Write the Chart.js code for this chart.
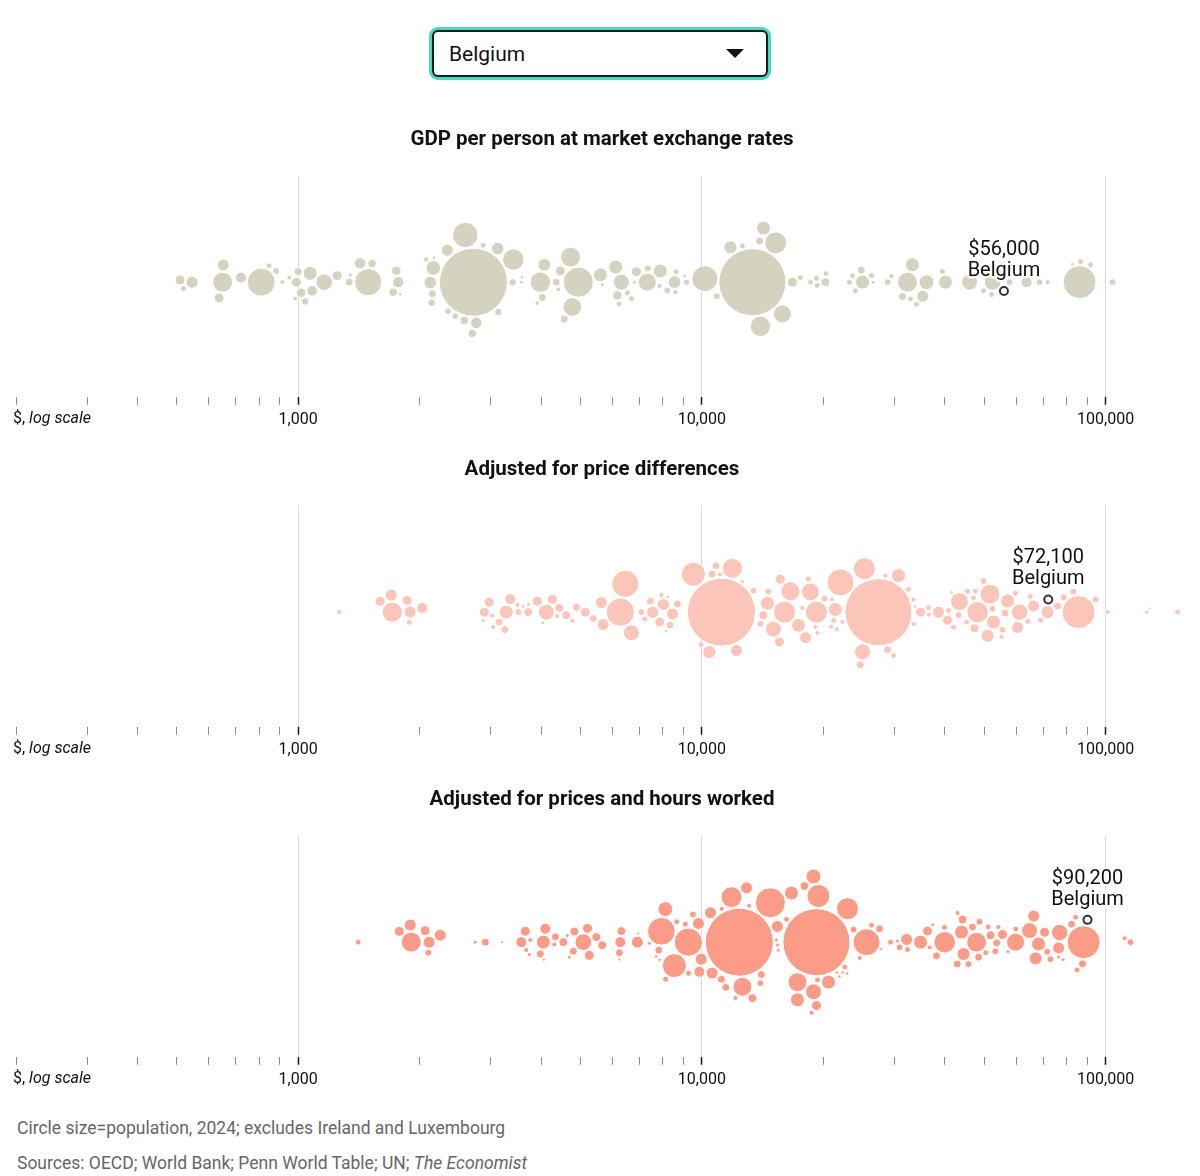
<!DOCTYPE html>
<html>
<head>
<meta charset="utf-8">
<script src="https://cdn.jsdelivr.net/npm/chart.js@4.4.1/dist/chart.umd.min.js"></script>
<style>
  body { margin: 0; background: #fff; font-family: Roboto, "Noto Sans", sans-serif; }
  #page { position: relative; width: 1200px; height: 1176px; overflow: hidden; }
  .select { position: absolute; left: 432px; top: 30px; width: 332px; height: 43px;
            border: 2px solid #1a1a1a; border-radius: 6px; box-shadow: 0 0 0 3px #45dbb9; background: #fff; }
  .select span { position: absolute; left: 15px; top: 10px; font-size: 21px; line-height: 25px; color: #111; }
  .select i { position: absolute; right: 22px; top: 17px; width: 0; height: 0;
              border-left: 9px solid transparent; border-right: 9px solid transparent; border-top: 9px solid #111; }
  .panel { position: absolute; left: 0; width: 1200px; height: 330px; }
  .note { position: absolute; left: 17px; font-size: 17.5px; line-height: 22px; color: #666; white-space: nowrap; }
</style>
</head>
<body>
<div id="page">
  <div class="select"><span>Belgium</span><i></i></div>
  <canvas class="panel" id="c1" width="1200" height="330" style="top:114px"></canvas>
  <canvas class="panel" id="c2" width="1200" height="330" style="top:444px"></canvas>
  <canvas class="panel" id="c3" width="1200" height="330" style="top:774px"></canvas>
  <div class="note" style="top:1117px">Circle size=population, 2024; excludes Ireland and Luxembourg</div>
  <div class="note" style="top:1152px">Sources: OECD; World Bank; Penn World Table; UN; <i>The Economist</i></div>
</div>
<script>
// [GDP per person in $, population in millions]
const marketRates = [
  [510,31],[520,11],[546,45],[650,125],[652,45],[637,31],[722,38],[810,245],[847,11],[882,15],[913,7],[950,7],
  [983,7],[1017,28],[1000,20],[990,31],[1041,17],[1083,35],[1071,61],[1160,87],[1249,31],[1346,5],[1338,20],
  [1491,232],[1424,41],[1525,23],[1720,23],[1750,28],[1769,41],[1790,4],[2161,67],[2150,20],[2124,50],[2140,17],
  [2075,9],[2170,4],[2716,1450],[3131,17],[2341,45],[2350,14],[2449,14],[2579,23],[2762,41],[2594,202],[2700,23],
  [2873,11],[3120,50],[3410,143],[3400,17],[3570,5],[3580,4],[3979,133],[4072,50],[4025,20],[3911,7],[4358,20],
  [4460,31],[4563,20],[4942,283],[4776,108],[4730,125],[4410,7],[5666,5],[5603,61],[6175,27],[6117,61],[6318,80],
  [6233,11],[6538,11],[6690,11],[6881,31],[6805,5],[7325,101],[7340,15],[7890,61],[7850,8],[8213,15],[8595,8],
  [8556,51],[8635,11],[9155,13],[9070,5],[10170,211],[10895,15],[13340,1410],[11770,53],[12600,11],[14210,61],
  [15230,150],[13960,130],[15830,101],[13900,20],[16760,31],[17540,11],[18570,11],[19220,11],[19300,11],[20230,25],
  [20300,11],[24010,11],[23200,11],[25000,61],[23620,11],[24830,20],[26300,11],[26550,5],[28830,15],[29490,8],
  [33240,61],[32300,124],[36010,70],[35250,45],[31400,20],[32830,11],[34010,11],[39450,11],[40130,61],[46030,80],
  [49570,20],[49850,11],[54930,53],[52480,84],[57830,15],[52180,11],[63720,38],[68620,15],[71840,8],[82700,4],
  [86220,340],[86700,11],[91800,11],[104100,15]
];
const priceAdjusted = [
  [1264,9],[1710,125],[1884,11],[1895,45],[2029,38],[1863,31],[1700,45],[1597,31],[2890,31],[2873,5],[2974,31],
  [3148,20],[3042,8],[3025,8],[3277,61],[3247,20],[3353,38],[3510,15],[3493,8],[3611,5],[3715,25],[3720,5],
  [3911,31],[4118,80],[4262,31],[4035,5],[4434,25],[4385,8],[4615,25],[4776,8],[4888,20],[5143,31],[5383,20],
  [5635,45],[5690,45],[6281,250],[6463,230],[6688,80],[7080,15],[7220,11],[7455,20],[7550,45],[7936,8],[7860,31],
  [8027,45],[8452,45],[8336,20],[8696,20],[8150,4],[8250,4],[9526,180],[9960,11],[11180,1450],[10430,53],
  [11900,125],[10600,20],[10840,20],[11080,8],[12180,45],[12600,5],[13420,15],[13960,15],[14540,61],[14600,15],
  [14200,25],[15040,80],[15650,31],[15560,31],[16020,152],[16570,113],[17350,61],[18060,45],[17730,8],[19220,152],
  [18570,101],[19110,8],[19330,8],[18350,11],[20120,15],[21420,61],[21200,11],[20900,8],[21600,8],[21000,8],
  [22300,8],[22050,228],[25000,80],[24700,20],[27380,1410],[25270,152],[28830,20],[28500,8],[29830,11],[30690,61],
  [32490,11],[33440,8],[33500,8],[33700,4],[34800,31],[36420,11],[36500,8],[38560,45],[40820,11],[40590,31],
  [41500,5],[42000,11],[43220,15],[43470,101],[45240,11],[45500,11],[47090,11],[47360,25],[47630,11],[48180,144],
  [51020,53],[49850,15],[52780,61],[51720,124],[55250,8],[57170,61],[52480,15],[55540,15],[56390,20],[59840,11],
  [61220,84],[60520,45],[64110,11],[66340,45],[65000,11],[69030,11],[71840,53],[76040,20],[78690,15],[83300,15],
  [85730,340],[94450,15],[101200,8],[126400,5],[128600,3],[150800,11]
];
const hoursAdjusted = [
  [1408,11],[1906,125],[2100,15],[2110,45],[2249,45],[2063,31],[1895,45],[1780,31],[2746,5],[2907,20],[3203,3],
  [3653,31],[3570,38],[3671,8],[3757,8],[3740,5],[4048,61],[4095,38],[4060,3],[3979,20],[4335,20],[4310,8],
  [4538,25],[4640,5],[4802,20],[4694,5],[5085,87],[4830,25],[5262,31],[5210,31],[5477,25],[5666,25],[6245,20],
  [6318,25],[6280,38],[6250,3],[6920,45],[6950,3],[7412,5],[7936,240],[8120,70],[7820,20],[8547,180],[9259,250],
  [9270,11],[9858,38],[9500,15],[9810,45],[9100,11],[8660,11],[8130,11],[7700,4],[7860,4],[12380,1450],[11840,138],
  [13340,25],[14040,20],[9960,45],[10500,45],[10600,45],[11180,20],[11200,8],[11460,20],[12110,8],[12600,113],
  [12900,45],[13100,8],[13960,15],[14780,283],[15380,45],[15400,5],[15450,5],[15300,5],[16670,61],[17250,61],
  [18900,80],[17950,25],[19220,31],[16200,11],[19220,1410],[17250,113],[18900,70],[19440,166],[18700,8],[19330,11],
  [20590,61],[22950,152],[22600,11],[25570,228],[23740,15],[24600,8],[26300,11],[27540,20],[27800,3],[21600,4],
  [21900,4],[22300,4],[22900,4],[29330,11],[30870,15],[32300,11],[32150,45],[30500,5],[34800,61],[36220,31],
  [36700,8],[37300,5],[38120,20],[39900,11],[39950,144],[42970,8],[43960,61],[42900,20],[44470,53],[44220,25],
  [45700,15],[46820,20],[47900,124],[48700,15],[48460,20],[51880,25],[50500,11],[51200,11],[53300,15],[54200,8],
  [53700,20],[55540,31],[57300,5],[59840,101],[59900,11],[64810,80],[66340,45],[67080,53],[68230,61],[70620,31],
  [71700,15],[73000,15],[76480,45],[76920,84],[76500,5],[78500,5],[82360,20],[84300,11],[85000,11],[87700,20],
  [88200,340],[111400,8],[115300,15]
];
const highlightName = 'Belgium';
const highlightValues = [56000, 72100, 90200];
const panelTitles = ['GDP per person at market exchange rates', 'Adjusted for price differences', 'Adjusted for prices and hours worked'];
const tickValues = [200,300,400,500,600,700,800,900,1000,2000,3000,4000,5000,6000,7000,8000,9000,
                    10000,20000,30000,40000,50000,60000,70000,80000,90000,100000];
const labelledTicks = [1000, 10000, 100000];

const FONT = 'Roboto, "Noto Sans", sans-serif';
Chart.defaults.font.family = FONT;
const colors = ['#d6d2c0', '#fcc5b9', '#fa9c88'];
const radius = pop => Math.max(1.5, 34 * Math.sqrt(pop / 1450));

// simple beeswarm: biggest circles first, each one as close to the centre line as it fits
function swarm(items, pad) {
  const placed = [];
  items.slice().sort((a, b) => b.r - a.r || a.px - b.px).forEach(it => {
    const cands = [0];
    placed.forEach(p => {
      const d = it.r + p.r + pad, dx = it.px - p.px;
      if (Math.abs(dx) < d) {
        const dy = Math.sqrt(d * d - dx * dx);
        cands.push(p.py + dy, p.py - dy);
      }
    });
    cands.sort((a, b) => Math.abs(a) - Math.abs(b) || a - b);
    for (const c of cands) {
      const ok = placed.every(p => {
        const d = it.r + p.r + pad - 0.01;
        return (it.px - p.px) ** 2 + (c - p.py) ** 2 >= d * d;
      });
      if (ok) { it.py = c; break; }
    }
    placed.push(it);
  });
}

const annotate = {
  id: 'annotate',
  afterDraw(chart) {
    const ctx = chart.ctx, xs = chart.scales.x;
    const y0 = xs.top + 8 + 6;
    ctx.save();
    ctx.fillStyle = '#111';
    ctx.textBaseline = 'top';
    ctx.textAlign = 'left';
    let x = xs.getPixelForValue(200) - 3;
    ctx.font = '16px ' + FONT;
    ctx.fillText('$, ', x, y0);
    x += ctx.measureText('$, ').width;
    ctx.font = 'italic 16px ' + FONT;
    ctx.fillText('log scale', x, y0);

    const p = chart.getDatasetMeta(1).data[0];
    const val = chart.data.datasets[1].data[0].x;
    ctx.font = '20px ' + FONT;
    ctx.textAlign = 'center';
    ctx.textBaseline = 'middle';
    ctx.lineJoin = 'round';
    ctx.lineWidth = 5;
    ctx.strokeStyle = 'rgba(255,255,255,0.8)';
    [['$' + val.toLocaleString('en-US'), -41], [highlightName, -20]].forEach(([t, dy]) => {
      ctx.strokeText(t, p.x, p.y + dy);
      ctx.fillText(t, p.x, p.y + dy);
    });
    ctx.restore();
  }
};

function makePanel(id, title, rows, hiValue, color) {
  const chart = new Chart(document.getElementById(id), {
    type: 'bubble',
    data: {
      datasets: [{
        data: rows.map(d => ({x: d[0], y: 0, r: radius(d[1])})),
        backgroundColor: color,
        borderColor: '#fff',
        borderWidth: 1,
        clip: false
      }, {
        data: [{x: hiValue, y: 0, r: 4}],
        backgroundColor: 'rgba(255,255,255,0.5)',
        borderColor: '#333',
        borderWidth: 2,
        clip: false
      }]
    },
    options: {
      responsive: false,
      animation: false,
      events: [],
      layout: {autoPadding: false, padding: {left: 16, right: 12, top: 0, bottom: 8}},
      plugins: {
        legend: {display: false},
        tooltip: {enabled: false},
        title: {
          display: true,
          text: title,
          color: '#111',
          font: {size: 20.5, weight: 'bold'},
          padding: {top: 14, bottom: 23}
        }
      },
      scales: {
        x: {
          type: 'logarithmic',
          min: 200,
          max: 160000,
          afterBuildTicks: s => { s.ticks = tickValues.map(v => ({value: v})); },
          border: {display: false},
          grid: {
            color: c => labelledTicks.includes(c.tick && c.tick.value) ? '#d8d8d8' : 'rgba(0,0,0,0)',
            tickColor: c => labelledTicks.includes(c.tick && c.tick.value) ? '#1a1a1a' : '#8c8c8c',
            tickWidth: c => labelledTicks.includes(c.tick && c.tick.value) ? 1.5 : 1,
            tickLength: 8,
            lineWidth: 1
          },
          ticks: {
            autoSkip: false,
            maxRotation: 0,
            padding: 6,
            color: '#111',
            font: {size: 16},
            callback: v => labelledTicks.includes(v) ? v.toLocaleString('en-US') : ''
          }
        },
        y: {display: false, min: -114, max: 106}
      }
    },
    plugins: [annotate]
  });

  // place the circles once the x scale is known
  const xs = chart.scales.x, ys = chart.scales.y;
  const unit = (ys.max - ys.min) / (ys.bottom - ys.top);
  const items = rows.map((d, i) => ({px: xs.getPixelForValue(d[0]), r: radius(d[1]), i}));
  items.push({px: xs.getPixelForValue(hiValue), r: 5, i: -1});
  swarm(items, 1.2);
  const ds = chart.data.datasets;
  items.forEach(it => {
    const y = -it.py * unit;
    if (it.i < 0) ds[1].data[0].y = y; else ds[0].data[it.i].y = y;
  });
  chart.update('none');
}

makePanel('c1', panelTitles[0], marketRates, highlightValues[0], colors[0]);
makePanel('c2', panelTitles[1], priceAdjusted, highlightValues[1], colors[1]);
makePanel('c3', panelTitles[2], hoursAdjusted, highlightValues[2], colors[2]);
</script>
</body>
</html>
